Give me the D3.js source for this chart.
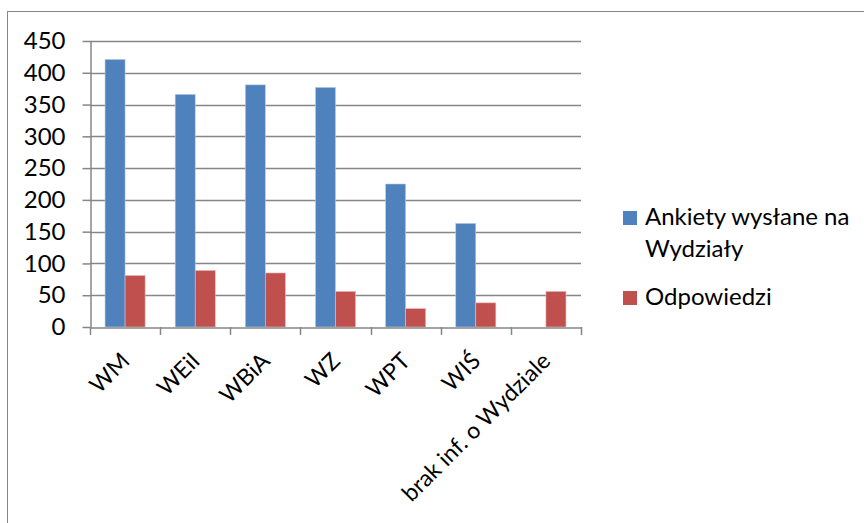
<!DOCTYPE html>
<html>
<head>
<meta charset="utf-8">
<script src="https://cdn.jsdelivr.net/npm/d3@7"></script>
<style>
  body { margin: 0; background: #fff; }
  svg { font-family: Lato, "Open Sans", sans-serif; }
</style>
</head>
<body>
<div id="chart"></div>
<script>
const categories = ["WM", "WEiI", "WBiA", "WZ", "WPT", "WIŚ", "brak inf. o Wydziale"];
const sent = [421, 366, 381, 377, 225, 163, null];
const answers = [81, 89, 85, 56, 29, 38, 56];
const seriesNames = ["Ankiety wysłane na Wydziały", "Odpowiedzi"];
const colors = ["#4F81BD", "#C0504D"];
const yTicks = [0, 50, 100, 150, 200, 250, 300, 350, 400, 450];

const W = 864, H = 523;
const plot = { left: 90, right: 581, top: 41, bottom: 327 };

const svg = d3.select("#chart").append("svg")
  .attr("width", W).attr("height", H);

// outer chart border
svg.append("rect")
  .attr("x", 7.5).attr("y", 11.5)
  .attr("width", W).attr("height", H)
  .attr("fill", "none").attr("stroke", "#868686");

const x = d3.scaleBand().domain(categories).range([plot.left, plot.right]);
const y = d3.scaleLinear().domain([0, 450]).range([plot.bottom, plot.top]);
const barW = x.bandwidth() / 3.5;
const x1 = d3.scaleBand().domain([0, 1]).range([0.75 * barW, 2.75 * barW]);

// gridlines
svg.append("g")
  .selectAll("line")
  .data(yTicks.slice(1))
  .join("line")
  .attr("x1", plot.left).attr("x2", plot.right)
  .attr("y1", d => Math.round(y(d)) + 0.5).attr("y2", d => Math.round(y(d)) + 0.5)
  .attr("stroke", "#868686").attr("stroke-width", 1.5);

// bars
const series = [sent, answers];
series.forEach((vals, si) => {
  svg.append("g")
    .selectAll("rect")
    .data(categories.map((c, i) => ({ c, v: vals[i] })).filter(d => d.v != null))
    .join("rect")
    .attr("x", d => x(d.c) + x1(si))
    .attr("width", x1.bandwidth())
    .attr("y", d => y(d.v))
    .attr("height", d => y(0) - y(d.v))
    .attr("fill", colors[si])
    .attr("stroke", si === 0 ? "#B9CDE5" : "#E6B9B8")
    .attr("stroke-width", 0.6);
});

// y axis
const yAxis = svg.append("g")
  .attr("transform", `translate(${plot.left + 0.5},0)`)
  .call(d3.axisLeft(y).tickValues(yTicks).tickSizeOuter(0).tickSizeInner(8).tickPadding(17));
yAxis.selectAll("line, path").attr("stroke", "#868686").attr("stroke-width", 1.5);
yAxis.selectAll("text").attr("font-size", 24).attr("fill", "#000")
  .attr("font-family", "Lato, sans-serif");

// x axis
const xAxis = svg.append("g")
  .attr("transform", `translate(0,${Math.round(y(0)) + 0.5})`)
  .call(d3.axisBottom(x).tickSize(0).tickSizeOuter(0).tickPadding(0));
xAxis.select(".domain").attr("stroke", "#868686").attr("stroke-width", 1.5);
xAxis.selectAll(".tick text")
  .attr("font-size", 23).attr("fill", "#000")
  .attr("font-family", "Lato, sans-serif")
  .attr("text-anchor", "end")
  .attr("y", 0)
  .attr("dy", 0)
  .attr("transform", "translate(6,35) rotate(-45)");

// category separators
svg.append("g")
  .selectAll("line")
  .data(categories.map(c => x(c)).concat([plot.right]))
  .join("line")
  .attr("x1", d => Math.round(d) + 0.5).attr("x2", d => Math.round(d) + 0.5)
  .attr("y1", y(0)).attr("y2", y(0) + 8)
  .attr("stroke", "#868686").attr("stroke-width", 1.5);

// legend
const legend = svg.append("g").attr("font-size", 24);
const legendRows = [
  { name: seriesNames[0], lines: ["Ankiety wysłane na", "Wydziały"], y: 211 },
  { name: seriesNames[1], lines: ["Odpowiedzi"], y: 291 }
];
legendRows.forEach((r, i) => {
  legend.append("rect")
    .attr("x", 623).attr("y", r.y).attr("width", 14).attr("height", 14)
    .attr("fill", colors[i]);
  r.lines.forEach((t, j) => {
    legend.append("text")
      .attr("x", 645).attr("y", r.y + 14 + j * 32)
      .attr("fill", "#000")
      .text(t);
  });
});
</script>
</body>
</html>
